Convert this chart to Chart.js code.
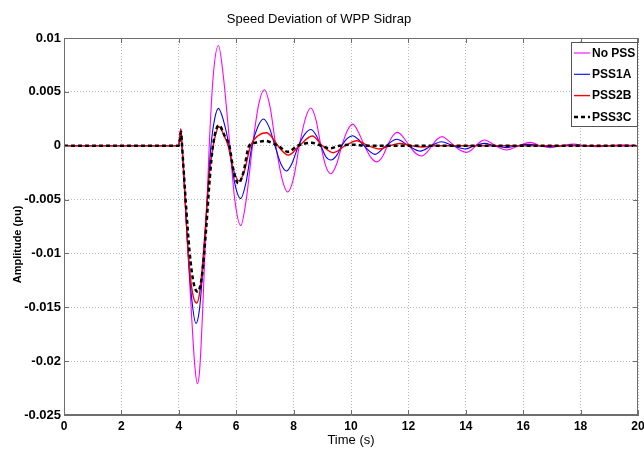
<!DOCTYPE html>
<html><head><meta charset="utf-8">
<script src="https://cdn.jsdelivr.net/npm/chart.js@4.4.0/dist/chart.umd.min.js"></script>
<style>html,body{margin:0;padding:0;overflow:hidden;background:#fff;width:644px;height:453px}canvas{display:block}</style>
</head><body>
<canvas id="c" width="650" height="453"></canvas>
<script>
// ---- data ----
const xTicks = [0,2,4,6,8,10,12,14,16,18,20];
const yTicks = [-0.025,-0.02,-0.015,-0.01,-0.005,0,0.005,0.01];
const seriesNames = ['No PSS','PSS1A','PSS2B','PSS3C'];
const yAxisTitle = 'Amplitude (pu)';

const tNoPss = [0,4.0,4.03,4.07,4.1,4.15,4.3,4.45,4.56,4.65,4.73,4.82,4.94,5.06,5.2,5.38,5.55,5.78,5.95,6.16,6.35,6.57,6.78,6.98,7.18,7.38,7.6,7.79,8.0,8.2,8.42,8.6,8.78,8.95,9.12,9.3,9.5,9.68,9.87,10.06,10.25,10.47,10.7,10.9,11.1,11.27,11.45,11.62,11.82,12.03,12.25,12.46,12.65,12.82,13.0,13.18,13.38,13.6,13.82,14.03,14.2,14.35,14.52,14.67,14.85,15.03,15.42,15.85,16.24,16.6,16.93,17.33,17.75,18.15,18.56,19.0,19.4,20];
const vNoPss = [0,0,0.0008,0.0016,0.0005,-0.0015,-0.009,-0.016,-0.0205,-0.0221,-0.0207,-0.016,-0.008,0,0.0065,0.0093,0.0065,0,-0.005,-0.0074,-0.005,0,0.0038,0.0052,0.0036,0,-0.0031,-0.0043,-0.003,0,0.0026,0.0035,0.0024,0,-0.0019,-0.0026,-0.0017,0,0.0014,0.002,0.0013,0,-0.0011,-0.0015,-0.001,0,0.0009,0.00124,0.0008,0,-0.0007,-0.00096,-0.0006,0,0.0006,0.00084,0.0005,0,-0.00045,-0.00062,-0.0004,0,0.0004,0.00053,0.0003,0,-0.0004,0,0.00031,0,-0.00018,0,0.00016,0,-0.0001,0,0.00008,0];

const tPss1A = [0,4.0,4.03,4.07,4.1,4.15,4.3,4.45,4.6,4.72,4.85,4.99,5.12,5.25,5.38,5.55,5.75,5.95,6.15,6.35,6.55,6.76,6.95,7.15,7.35,7.56,7.75,7.95,8.17,8.4,8.6,8.78,8.95,9.12,9.3,9.5,9.68,9.87,10.06,10.25,10.45,10.84,11.22,11.6,12.0,12.42,12.8,13.15,13.55,13.97,14.3,14.65,15.0,15.42,15.8,16.2,16.55,16.95,17.35,17.75,18.2,20];
const vPss1A = [0,0,0.0007,0.0014,0.0004,-0.0015,-0.009,-0.0142,-0.0165,-0.0152,-0.011,-0.005,0,0.0025,0.00347,0.0024,0,-0.0035,-0.0049,-0.0033,0,0.0018,0.00248,0.0017,0,-0.0017,-0.00235,-0.0016,0,0.0011,0.0015,0.001,0,-0.001,-0.00133,-0.0009,0,0.00068,0.00093,0.0006,0,-0.0008,0,0.0006,0,-0.0005,0,0.00037,0,-0.0003,0,0.00022,0,-0.00018,0,0.00013,0,-0.0001,0,0.00007,0,0];

const tPss2B = [0,4.0,4.03,4.07,4.1,4.15,4.3,4.45,4.62,4.75,4.9,5.05,5.2,5.4,5.6,5.72,5.9,6.1,6.3,6.5,6.75,7.06,7.3,7.45,7.82,8.2,8.65,9.0,9.38,9.8,10.2,10.6,11.0,11.35,11.7,12.1,12.5,12.9,20];
const vPss2B = [0,0,0.0007,0.0015,0.0004,-0.0015,-0.0088,-0.0132,-0.0146,-0.0132,-0.0085,-0.003,0,0.00176,0.0008,0,-0.0022,-0.00328,-0.0022,0,0.0009,0.0012,0.0006,0,-0.00087,0,0.0009,0,-0.00065,0,0.00046,0,-0.0003,0,0.0002,0,-0.00012,0,0];

const tPss3C = [0,4.0,4.04,4.08,4.11,4.15,4.37,4.52,4.66,4.8,4.95,5.08,5.19,5.4,5.6,5.76,5.9,6.07,6.25,6.45,6.7,7.0,7.3,7.45,7.8,8.15,8.63,8.95,9.27,9.6,10.1,10.5,20];
const vPss3C = [0,0,0.0006,0.0013,0.0002,-0.0015,-0.0097,-0.0128,-0.01355,-0.0122,-0.0078,-0.003,0,0.0019,0.0009,0,-0.0022,-0.0035,-0.0025,0,0.0003,0.00045,0.0002,0,-0.00056,0,0.00028,0,-0.00024,0,0.0001,0,0];

const pts = (t, v) => t.map((x, i) => ({x, y: v[i]}));
const FONT = '"Liberation Sans", Arial, sans-serif';

const frame = {
  id: 'frame',
  afterDatasetsDraw(chart) {
    const {ctx, chartArea: a, scales} = chart;
    ctx.save();
    ctx.strokeStyle = '#6e6e6e';
    ctx.lineWidth = 1;
    ctx.strokeRect(a.left + 0.5, a.top + 0.5, a.right - a.left - 1, a.bottom - a.top - 1);
    ctx.beginPath();
    scales.x.ticks.forEach(tk => {
      const px = Math.round(scales.x.getPixelForValue(tk.value)) + 0.5;
      ctx.moveTo(px, a.bottom); ctx.lineTo(px, a.bottom - 5);
      ctx.moveTo(px, a.top); ctx.lineTo(px, a.top + 5);
    });
    scales.y.ticks.forEach(tk => {
      const py = Math.round(scales.y.getPixelForValue(tk.value)) + 0.5;
      ctx.moveTo(a.left, py); ctx.lineTo(a.left + 5, py);
      ctx.moveTo(a.right, py); ctx.lineTo(a.right - 5, py);
    });
    ctx.stroke();
    ctx.restore();
  },
  afterDraw(chart) {
    const {ctx, chartArea: a} = chart;
    // y axis title (placed a little below the plot centre, as in the reference)
    ctx.save();
    ctx.translate(18, (a.top + a.bottom) / 2 + 18);
    ctx.rotate(-Math.PI / 2);
    ctx.font = 'bold 11px ' + FONT;
    ctx.fillStyle = '#000';
    ctx.textAlign = 'center';
    ctx.textBaseline = 'middle';
    ctx.fillText(yAxisTitle, 0, 0);
    ctx.restore();
    // legend box
    const w = 67, h = 85;
    const x0 = a.right - w, y0 = a.top + 4;
    ctx.save();
    ctx.fillStyle = '#fff';
    ctx.fillRect(x0, y0, w, h);
    ctx.strokeStyle = '#555';
    ctx.lineWidth = 1;
    ctx.strokeRect(x0 + 0.5, y0 + 0.5, w - 1, h - 1);
    ctx.font = 'bold 12px ' + FONT;
    ctx.textBaseline = 'middle';
    ctx.fillStyle = '#000';
    chart.data.datasets.forEach((ds, i) => {
      const y = y0 + 11 + i * 21.3;
      ctx.beginPath();
      ctx.strokeStyle = ds.borderColor;
      ctx.lineWidth = ds.borderWidth;
      ctx.setLineDash(ds.borderDash || []);
      ctx.moveTo(x0 + 3, y); ctx.lineTo(x0 + 19, y);
      ctx.stroke();
      ctx.setLineDash([]);
      ctx.fillText(ds.label, x0 + 21, y + 0.5);
    });
    ctx.restore();
  }
};

new Chart(document.getElementById('c'), {
  type: 'line',
  data: {
    datasets: [
      {label: seriesNames[0], data: pts(tNoPss, vNoPss), borderColor: '#ff00ff', borderWidth: 1.1, order: 4},
      {label: seriesNames[1], data: pts(tPss1A, vPss1A), borderColor: '#0000ff', borderWidth: 1.1, order: 3},
      {label: seriesNames[2], data: pts(tPss2B, vPss2B), borderColor: '#ff0000', borderWidth: 1.4, order: 2},
      {label: seriesNames[3], data: pts(tPss3C, vPss3C), borderColor: '#000000', borderWidth: 2.5, borderDash: [4, 3], order: 1}
    ]
  },
  options: {
    responsive: false,
    animation: false,
    devicePixelRatio: 1,
    layout: {padding: {left: 0, right: 12, top: 0, bottom: 0}},
    elements: {point: {radius: 0}, line: {cubicInterpolationMode: 'monotone', fill: false}},
    plugins: {
      legend: {display: false},
      tooltip: {enabled: false},
      title: {display: true, text: 'Speed Deviation of WPP Sidrap', color: '#000',
        font: {family: FONT, size: 13, weight: 'normal'},
        padding: {top: 12, bottom: 10.4}}
    },
    scales: {
      x: {
        type: 'linear', min: 0, max: 20,
        afterBuildTicks: s => { s.ticks = xTicks.map(v => ({value: v})); },
        afterFit: s => { s.height = 38; },
        grid: {color: '#b8b8b8', drawTicks: false},
        border: {display: true, color: '#6e6e6e', dash: [1, 2]},
        ticks: {color: '#000', padding: 4, maxRotation: 0,
          font: {family: FONT, size: 12, weight: 'bold'},
          callback: v => String(v)},
        title: {display: true, text: 'Time (s)', color: '#000',
          font: {family: FONT, size: 13, weight: 'normal'},
          padding: {top: 0, bottom: 5.2}}
      },
      y: {
        type: 'linear', min: -0.025, max: 0.01,
        afterBuildTicks: s => { s.ticks = yTicks.map(v => ({value: v})); },
        afterFit: s => { s.width = 64; },
        grid: {color: '#b8b8b8', drawTicks: false},
        border: {display: true, color: '#6e6e6e', dash: [1, 2]},
        ticks: {color: '#000', padding: 3,
          font: {family: FONT, size: 13, weight: 'bold'},
          callback: v => String(+Number(v).toFixed(3))},
        title: {display: false}
      }
    }
  },
  plugins: [frame]
});
</script>
</body></html>
